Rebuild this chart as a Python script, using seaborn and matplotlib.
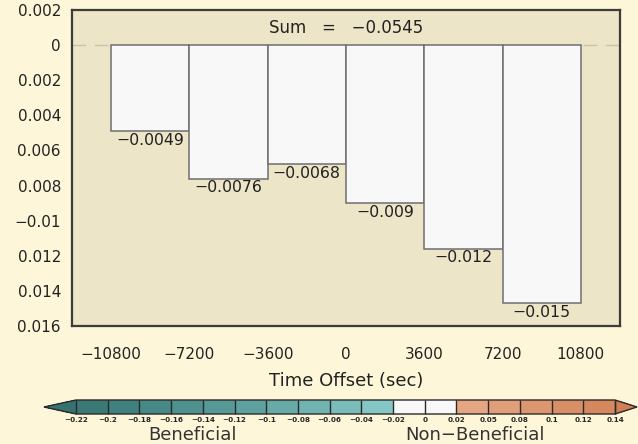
import numpy as np
import pandas as pd
import seaborn as sns
import matplotlib
matplotlib.use("Agg")
import matplotlib.pyplot as plt
from matplotlib.colors import ListedColormap, BoundaryNorm

# ---- data ----
offsets = [-9000, -5400, -1800, 1800, 5400, 9000]          # bin centres (sec)
impact = [-0.0049, -0.0076, -0.0068, -0.0090, -0.0116, -0.0147]
impact_labels = ["\u22120.0049", "\u22120.0076", "\u22120.0068", "\u22120.009", "\u22120.012", "\u22120.015"]
sum_label = "Sum   =   \u22120.0545"
xtick_vals = [-10800, -7200, -3600, 0, 3600, 7200, 10800]
xtick_labels = ["\u221210800", "\u22127200", "\u22123600", "0", "3600", "7200", "10800"]
ytick_vals = [0.002, 0, -0.002, -0.004, -0.006, -0.008, -0.010, -0.012, -0.014, -0.016]
ytick_labels = ["0.002", "0", "0.002", "0.004", "0.006", "0.008", "\u22120.01", "0.012", "0.014", "0.016"]
cb_levels = [-0.22, -0.2, -0.18, -0.16, -0.14, -0.12, -0.1, -0.08, -0.06, -0.04, -0.02,
             0, 0.02, 0.05, 0.08, 0.1, 0.12, 0.14]
cb_labels = ["\u22120.22", "\u22120.2", "\u22120.18", "\u22120.16", "\u22120.14", "\u22120.12", "\u22120.1",
             "\u22120.08", "\u22120.06", "\u22120.04", "\u22120.02", "0", "0.02", "0.05", "0.08", "0.1",
             "0.12", "0.14"]
cb_colors = ["#3b7977", "#40817f", "#478987", "#4e918f", "#569997", "#5ea1a0", "#67aaa8",
             "#70b3b1", "#79bcba", "#84c7c6", "#f8f8f8", "#f8f8f8",
             "#e5a783", "#e19f79", "#dd9770", "#d98f66", "#d5875d"]
cb_under = "#357270"
cb_over = "#d17f55"

df = pd.DataFrame({"offset": offsets, "impact": impact})

# ---- figure ----
sns.set_theme(style="white")
plt.rcParams["font.family"] = ["DejaVu Sans"]
fig_bg = "#fdf6d8"
ax_bg = "#ece5c7"
fig = plt.figure(figsize=(6.38, 4.44), dpi=100, facecolor=fig_bg)
ax = fig.add_axes([72/638, 1-326/444, 548/638, 316/444])
ax.set_facecolor(ax_bg)

ax.axhline(0, color="#cbc3a6", lw=1.0, ls=(0, (10, 6)), zorder=0)

sns.barplot(data=df, x="offset", y="impact", native_scale=True, width=1.0,
            errorbar=None, color="#f8f8f8", saturation=1, edgecolor="#6e6e6e",
            linewidth=1.1, ax=ax, zorder=2)
ax.bar_label(ax.containers[0], labels=impact_labels, padding=1, fontsize=11.3, color="#202020")

ax.set_xlim(-12600, 12600)
ax.set_ylim(-0.016, 0.002)
ax.set_xticks(xtick_vals)
ax.set_xticklabels(xtick_labels)
ax.set_yticks(ytick_vals)
ax.set_yticklabels(ytick_labels)
ax.tick_params(axis="both", direction="out", length=4, width=1.2, color="#333333",
               labelsize=11, labelcolor="#222222", pad=4)
ax.tick_params(axis="x", pad=11)
ax.set_xlabel("Time Offset (sec)", fontsize=13, color="#222222", labelpad=7)
ax.set_ylabel("")
for s in ax.spines.values():
    s.set_color("#3c3c3c")
    s.set_linewidth(1.6)
    s.set_visible(True)

ax.text(0.5, 0.943, sum_label, transform=ax.transAxes, ha="center", va="center",
        fontsize=12, color="#222222")

# ---- colour bar ----
cax = fig.add_axes([44/638, 1-414/444, 593/638, 14/444])
cmap = ListedColormap(cb_colors)
cmap.set_under(cb_under)
cmap.set_over(cb_over)
norm = BoundaryNorm(cb_levels, cmap.N)
sm = plt.cm.ScalarMappable(norm=norm, cmap=cmap)
cb = fig.colorbar(sm, cax=cax, orientation="horizontal", extend="both",
                  extendfrac=[32/539, 22/539], drawedges=True, spacing="uniform")
cb.outline.set_edgecolor("#2a2a2a")
cb.outline.set_linewidth(1.0)
cb.dividers.set_color("#2a2a2a")
cb.dividers.set_linewidth(1.0)
cb.set_ticks(cb_levels)
cb.set_ticklabels(cb_labels)
cax.tick_params(length=0, pad=2, labelsize=5.2)
for t in cax.get_xticklabels():
    t.set_fontweight("bold")

fig.text(192/638, 1-435/444, "Beneficial", ha="center", va="center", fontsize=13, color="#333333")
fig.text(475/638, 1-435/444, "Non\u2212Beneficial", ha="center", va="center", fontsize=13, color="#333333")

fig.savefig("out.png", dpi=100, facecolor=fig_bg)
